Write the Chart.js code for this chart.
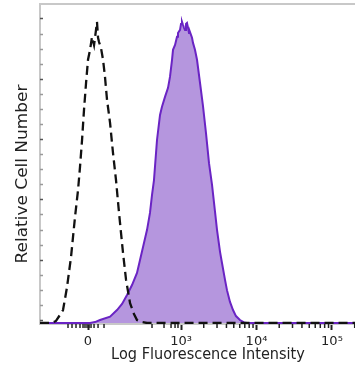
<!DOCTYPE html>
<html><head><meta charset="utf-8">
<script src="https://cdn.jsdelivr.net/npm/chart.js@4/dist/chart.umd.min.js"></script>
<style>html,body{margin:0;padding:0;background:#fff}#wrap{width:355px;height:367px}</style>
</head><body><div id="wrap"><canvas id="c" width="355" height="367"></canvas></div>
<script>
// x values are in display (decade) units: 3 = 10^3, 4 = 10^4, 5 = 10^5, 1.768 = 0
const stainedX = [1.132,1.795,1.861,1.927,2.060,2.152,2.219,2.285,2.351,2.417,2.457,2.497,2.550,2.589,2.616,2.642,2.682,2.722,2.748,2.788,2.828,2.854,2.881,2.894,2.921,2.947,2.960,2.987,3.000,3.013,3.026,3.040,3.053,3.066,3.079,3.093,3.106,3.119,3.146,3.159,3.185,3.212,3.252,3.291,3.331,3.371,3.411,3.450,3.477,3.517,3.543,3.583,3.609,3.649,3.689,3.728,3.781,3.834,3.874,5.305];
const stainedY = [0,0,0.3,1.0,2.1,4.3,6.3,9.3,12.6,16.6,20.9,25.2,30.9,36.5,42.5,47.4,60.7,69.0,71.7,75.0,78.0,81.6,87.3,90.6,92.2,94.9,96.2,97.2,99.2,99.9,98.9,97.9,97.2,99.2,99.5,97.9,96.2,96.5,94.6,92.9,90.6,87.3,79.6,72.0,63.0,53.0,45.8,37.0,30.9,23.6,19.9,14.3,10.9,7.0,4.3,2.3,1.0,0.2,0,0];
const controlX = [1.132,1.291,1.344,1.397,1.437,1.490,1.543,1.596,1.636,1.662,1.689,1.715,1.742,1.768,1.795,1.821,1.848,1.874,1.887,1.901,1.914,1.940,1.967,1.993,2.020,2.060,2.099,2.139,2.179,2.232,2.272,2.325,2.377,2.417,2.483,2.550,5.305];
const controlY = [0,0,0.7,2.7,4.3,11.9,21.9,35.2,44.1,51.8,60.7,70.7,79.6,87.3,90.6,94.9,92.2,97.2,99.9,94.6,93.2,91.2,87.3,81.6,74.0,66.4,56.4,47.4,36.5,23.2,14.3,6.6,3.0,1.0,0.3,0,0];
const xTickValues = [1.768, 3, 4, 5];
const xTickLabels = ['0', '10³', '10⁴', '10⁵'];
const xMinorTicks = [1.503,1.556,1.609,1.662,1.702,1.728,1.755,1.781,1.808,1.848,1.901,1.980,2.616,2.775,2.868,2.921,2.960];
const yTickValues = [1,6,11,16,21,26,31,36,41,46,51,56,61,66,71,76,81,86,91,96,101];
const xTitle = 'Log Fluorescence Intensity';
const yTitle = 'Relative Cell Number';

function pts(xs, ys){ return xs.map((x,i)=>({x:x, y:ys[i]})); }
for (let k = 3; k <= 5; k++) for (let m = 2; m <= 9; m++) xMinorTicks.push(k + Math.log10(m));

const frame = {
  id: 'frame',
  beforeDatasetsDraw(chart){
    const {ctx, chartArea:a, scales:{x, y}} = chart;
    ctx.save();
    ctx.strokeStyle = '#c8c8c8'; ctx.lineWidth = 2;
    ctx.beginPath(); ctx.moveTo(a.left - 1, a.top); ctx.lineTo(a.right, a.top); ctx.stroke();
    yTickValues.forEach((v) => {
      const py = Math.round(y.getPixelForValue(v)) + 0.5;
      ctx.strokeStyle = ((101 - v) % 20 === 0) ? '#555' : '#999';
      ctx.lineWidth = 1.5;
      ctx.beginPath(); ctx.moveTo(a.left, py); ctx.lineTo(a.left + 3, py); ctx.stroke();
    });
    ctx.restore();
  },
  afterDraw(chart){
    const {ctx, chartArea:a, scales:{x}} = chart;
    ctx.save();
    ctx.strokeStyle = '#222'; ctx.lineWidth = 1.5;
    xMinorTicks.forEach(v => {
      if (v < x.min || v > x.max) return;
      const px = x.getPixelForValue(v);
      ctx.beginPath(); ctx.moveTo(px, a.bottom); ctx.lineTo(px, a.bottom + 4); ctx.stroke();
    });
    // axis titles (slightly stretched vertically, like the reference)
    ctx.fillStyle = '#222';
    ctx.textAlign = 'center'; ctx.textBaseline = 'middle';
    ctx.font = '14.5px "DejaVu Sans"';
    ctx.save();
    ctx.translate(208, 355);
    ctx.scale(1, 1.15);
    ctx.fillText(xTitle, 0, 0);
    ctx.restore();
    ctx.save();
    ctx.font = '15px "DejaVu Sans"';
    ctx.translate(23, 174);
    ctx.rotate(-Math.PI / 2);
    ctx.scale(1.13, 1);
    ctx.fillText(yTitle, 0, 0);
    ctx.restore();
    ctx.restore();
  }
};

new Chart(document.getElementById('c'), {
  type: 'line',
  data: {
    datasets: [
      { label: 'Isotype control', data: pts(controlX, controlY), borderColor: '#111', borderWidth: 2.3,
        borderDash: [9, 5], pointRadius: 0, fill: false, tension: 0, order: 0 },
      { label: 'Stained', data: pts(stainedX, stainedY), borderColor: '#6a24c4', borderWidth: 2,
        backgroundColor: '#b596de', pointRadius: 0, fill: 'origin', tension: 0, order: 1 }
    ]
  },
  options: {
    responsive: false, animation: false, events: [],
    layout: { padding: { top: 4, left: 0, right: 0, bottom: 0 } },
    plugins: { legend: { display: false }, tooltip: { enabled: false } },
    scales: {
      x: {
        type: 'linear', min: 1.132, max: 5.305,
        afterBuildTicks: s => { s.ticks = xTickValues.map(v => ({ value: v })); },
        afterFit: s => { s.height = 43; },
        ticks: { callback: (v, i) => xTickLabels[i], autoSkip: false, maxRotation: 0, padding: 4,
                 color: '#222', font: { family: 'DejaVu Sans', size: 13 } },
        grid: { drawOnChartArea: false, tickLength: 6, tickWidth: 2, tickColor: '#222' },
        border: { color: '#c8c8c8', width: 2 },
        title: { display: false }
      },
      y: {
        type: 'linear', min: -0.33, max: 105.8,
        afterFit: s => { s.width = 40; },
        ticks: { display: false },
        grid: { display: false },
        border: { color: '#c8c8c8', width: 2 },
        title: { display: false }
      }
    }
  },
  plugins: [frame]
});
</script>
</body></html>
